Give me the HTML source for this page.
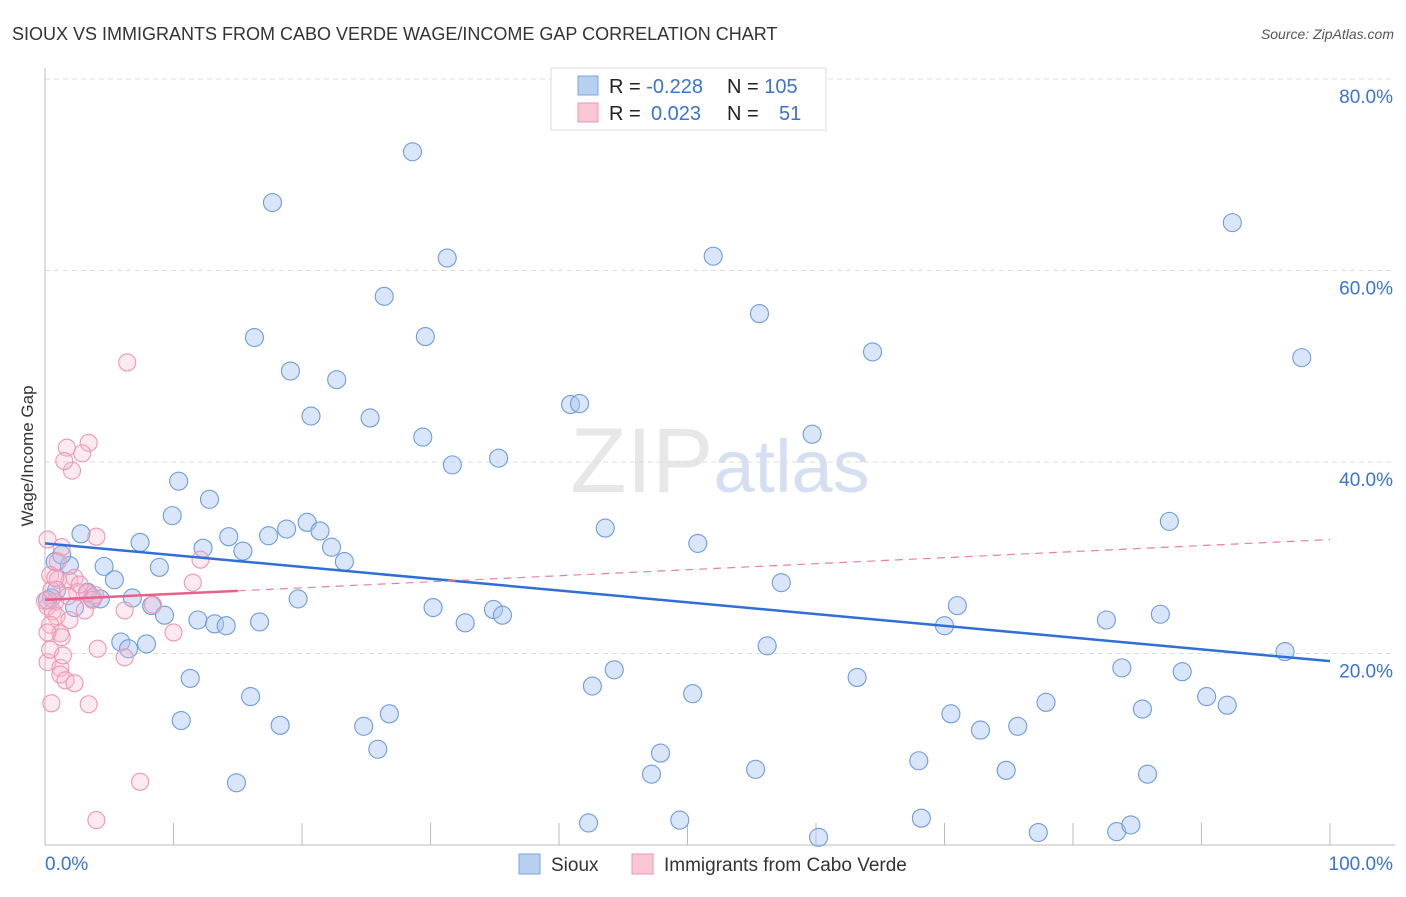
<!DOCTYPE html>
<html><head><meta charset="utf-8"><style>
body{margin:0;background:#fff;font-family:"Liberation Sans",sans-serif}
svg text{font-family:"Liberation Sans",sans-serif}
</style></head><body>
<svg id="chart" width="1406" height="892" xmlns="http://www.w3.org/2000/svg">
<text x="12" y="40" font-size="18" fill="#333">SIOUX VS IMMIGRANTS FROM CABO VERDE WAGE/INCOME GAP CORRELATION CHART</text>
<text x="1394" y="39" font-size="14" font-style="italic" fill="#555" text-anchor="end">Source: ZipAtlas.com</text>
<text transform="translate(33,456) rotate(-90)" font-size="17" fill="#333" text-anchor="middle">Wage/Income Gap</text>
<text x="720" y="492" font-size="92" fill="#d8d8d8" text-anchor="middle" font-family="Liberation Serif" opacity="0.6">ZIP<tspan fill="#b9cdea" font-family="Liberation Sans" font-size="74">atlas</tspan></text>
<g id="grid"></g><g id="axes"></g><g id="pts"></g><g id="trend"></g>
<g>
<rect x="551" y="68" width="275" height="62" fill="#fff" stroke="#ddd"/>
<rect x="578" y="76" width="20" height="19" fill="#b8d0f0" stroke="#7aa5e0"/>
<rect x="578" y="103" width="20" height="19" fill="#f9c6d4" stroke="#ef94b0"/>
<text x="609" y="93" font-size="20" fill="#222">R = <tspan fill="#3a73d0">-0.228</tspan></text>
<text x="727" y="93" font-size="20" fill="#222">N = <tspan fill="#3a73d0">105</tspan></text>
<text x="609" y="120" font-size="20" fill="#222">R = <tspan fill="#3a73d0" x="651">0.023</tspan></text>
<text x="727" y="120" font-size="20" fill="#222">N = <tspan fill="#3a73d0" x="779">51</tspan></text>
</g>
<g>
<rect x="519" y="854" width="21" height="20" fill="#b8d0f0" stroke="#7aa5e0"/>
<text x="551" y="871" font-size="19" fill="#333">Sioux</text>
<rect x="632" y="854" width="21" height="20" fill="#f9c6d4" stroke="#ef94b0"/>
<text x="664" y="871" font-size="19" fill="#333">Immigrants from Cabo Verde</text>
</g>
</svg>
<script>
const yTicks=[20,40,60,80];
const yTickLabels=["20.0%","40.0%","60.0%","80.0%"];
const xTickLabels=["0.0%","100.0%"];
const siouxX=[28.6,17.7,31.3,52.0,92.4,26.4,16.3,29.6,55.6,64.4,97.8,19.1,22.7,20.7,25.3,40.9,41.6,29.4,59.7,31.7,35.3,10.4,12.8,9.9,2.8,7.4,14.3,17.4,18.8,20.4,21.4,22.3,12.3,15.4,23.3,43.6,50.8,87.5,0.8,1.9,4.6,8.9,5.4,57.3,3.7,4.3,6.8,8.3,9.3,11.9,13.2,14.1,16.7,19.7,30.2,32.7,34.9,35.6,71.0,70.0,82.6,86.8,96.5,5.9,7.9,6.5,56.2,11.3,16.0,10.6,18.3,24.8,26.8,25.9,14.9,42.6,44.3,50.4,63.2,83.8,88.5,90.4,92.0,77.9,85.4,70.5,72.8,75.7,47.9,47.2,55.3,68.0,74.8,85.8,42.3,49.4,60.2,68.2,77.3,83.4,84.5,2.3,0.9,0.5,1.3,0.2,3.3];
const siouxY=[72.4,67.1,61.3,61.5,65.0,57.3,53.0,53.1,55.5,51.5,50.9,49.5,48.6,44.8,44.6,46.0,46.1,42.6,42.9,39.7,40.4,38.0,36.1,34.4,32.5,31.6,32.2,32.3,33.0,33.7,32.8,31.1,31.0,30.7,29.6,33.1,31.5,33.8,29.6,29.2,29.1,29.0,27.7,27.4,25.8,25.7,25.8,25.0,24.0,23.5,23.1,22.9,23.3,25.7,24.8,23.2,24.6,24.0,25.0,22.9,23.5,24.1,20.2,21.2,21.0,20.5,20.8,17.4,15.5,13.0,12.5,12.4,13.7,10.0,6.5,16.6,18.3,15.8,17.5,18.5,18.1,15.5,14.6,14.9,14.2,13.7,12.0,12.4,9.6,7.4,7.9,8.8,7.8,7.4,2.3,2.6,0.8,2.8,1.3,1.4,2.1,24.8,26.6,25.8,30.3,25.6,26.4];
const caboX=[6.4,3.4,1.7,2.9,2.1,1.5,4.0,0.2,1.3,1.0,11.5,12.1,0.4,1.0,1.9,2.3,2.5,1.8,3.3,3.9,0.8,0.2,0.6,0.9,0.4,1.2,1.3,6.2,8.4,10.0,4.1,6.2,0.2,1.2,1.2,1.6,2.3,0.5,3.4,7.4,4.0,0.0,0.5,0.2,0.8,3.1,0.4,1.4,1.9,2.7,3.7];
const caboY=[50.4,42.0,41.5,40.9,39.1,40.1,32.2,31.9,31.1,29.6,27.4,29.8,28.2,27.7,27.6,27.9,26.4,26.0,26.3,26.1,25.4,24.9,24.4,23.9,23.0,22.1,21.7,24.5,25.1,22.2,20.5,19.6,19.1,18.5,17.8,17.2,16.9,14.8,14.7,6.6,2.6,25.5,26.6,22.2,27.9,24.5,20.4,19.8,23.5,27.2,25.6];
const siouxTrend=[31.5,19.2];
const caboTrend=[25.6,31.9];
const caboSolidEnd=15;
const NS="http://www.w3.org/2000/svg";
const X=v=>45+v*12.85, Y=v=>845-v*9.575;
function mk(tag,parent,attrs){const e=document.createElementNS(NS,tag);for(const k in attrs)e.setAttribute(k,attrs[k]);document.getElementById(parent).appendChild(e);return e;}
yTicks.forEach((t,i)=>{
 const g=mk('line','grid',{x1:45,x2:1395,y1:Y(t),y2:Y(t),stroke:'#ddd','stroke-dasharray':'5,4'});
 
 
 const l=mk('text','grid',{x:1393,y:Y(t)+24,'font-size':19,fill:'#3a73d0','text-anchor':'end'});
 l.textContent=yTickLabels[i];
 
 
});
const ax=mk('line','axes',{x1:45,x2:45,y1:68,y2:845,stroke:'#bbb'});


const bx=mk('line','axes',{x1:45,x2:1395,y1:845,y2:845,stroke:'#bbb'});


for(let i=0;i<=10;i++){const t=mk('line','axes',{x1:X(i*10),x2:X(i*10),y1:823,y2:845,stroke:'#bbb'});
 
 }
const xl0=mk('text','axes',{x:45,y:870,'font-size':19,fill:'#3a73d0'});xl0.textContent=xTickLabels[0];


const xl1=mk('text','axes',{x:1393,y:870,'font-size':19,fill:'#3a73d0','text-anchor':'end'});xl1.textContent=xTickLabels[1];


siouxX.forEach((v,i)=>{const c=mk('circle','pts',{cx:X(v),cy:Y(siouxY[i]),r:9,fill:'rgba(170,200,242,0.45)',stroke:'#6d9be0','stroke-width':1.1});
 
 });
caboX.forEach((v,i)=>{const c=mk('circle','pts',{cx:X(v),cy:Y(caboY[i]),r:8.5,fill:'rgba(248,185,205,0.3)',stroke:'#f096b2','stroke-width':1.1});
 
 });
const bt=mk('line','trend',{x1:X(0),y1:Y(siouxTrend[0]),x2:X(100),y2:Y(siouxTrend[1]),stroke:'#2f6fd6','stroke-width':2.5});


const pm=caboTrend[0]+(caboTrend[1]-caboTrend[0])*caboSolidEnd/100;
const pt=mk('line','trend',{x1:X(0),y1:Y(caboTrend[0]),x2:X(caboSolidEnd),y2:Y(pm),stroke:'#e8608a','stroke-width':2.5});


const pd=mk('line','trend',{x1:X(caboSolidEnd),y1:Y(pm),x2:X(100),y2:Y(caboTrend[1]),stroke:'#e8809f','stroke-width':1.2,'stroke-dasharray':'8,6'});


</script>
</body></html>
